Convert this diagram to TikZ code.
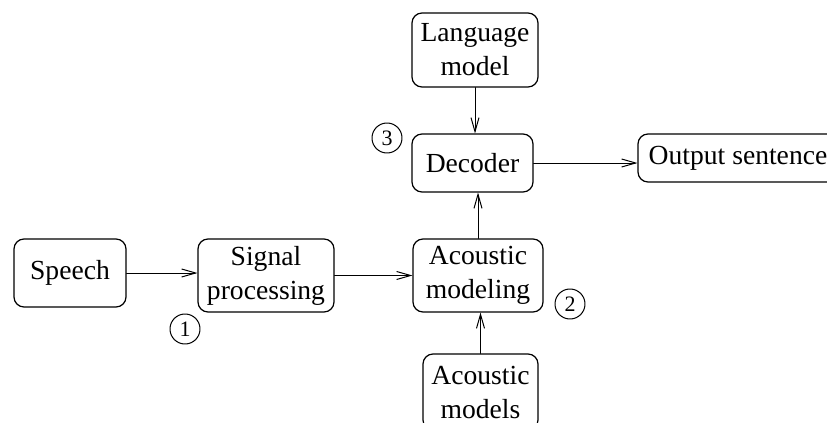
\documentclass[tikz,border=0pt]{standalone}
\usepackage{fontspec}
\setmainfont{Liberation Serif}
\usetikzlibrary{arrows.meta}
\tikzset{
  block/.style={draw, rounded corners=5pt, align=center, inner sep=0pt, line width=0.6pt,
    font=\fontsize{13.8}{17}\selectfont},
  stage/.style={draw, circle, minimum size=15pt, inner sep=0pt, line width=0.5pt,
    font=\fontsize{11}{13}\selectfont},
  flow/.style={-{Straight Barb[length=7pt,width=4pt]}, line width=0.5pt}
}
\begin{document}
\begin{tikzpicture}[x=0.5pt, y=-0.5pt, line cap=round, line join=round]
	\useasboundingbox (0,0) rectangle (827,423);
	
	% Các khối
	\node[block, minimum width=63pt, minimum height=37pt] (lang) at (475,50) {Language\\model};
	\node[block, minimum width=60.5pt, minimum height=29pt] (decoder) at (472.5,163) {Decoder};
	\node[block, minimum width=100pt, minimum height=24pt] (output) at (738,158) {Output sentence};
	\node[block, minimum width=56pt, minimum height=34pt] (speech) at (70,273) {Speech};
	\node[block, minimum width=68pt, minimum height=36.5pt] (signal) at (266,275.5) {Signal\\processing};
	\node[block, minimum width=65pt, minimum height=36.5pt] (acmod) at (478,275.5) {Acoustic\\modeling};
	\node[block, minimum width=57.5pt, minimum height=38pt] (acmods) at (480.5,392) {Acoustic\\models};
	
	% Các số thứ tự
	\node[stage] (one) at (185,329) {1};
	\node[stage] (two) at (570,304) {2};
	\node[stage] (three) at (387,138) {3};
	
	% Các mũi tên
	\draw[flow] (speech.east) -- (speech.east -| signal.west);
	\draw[flow] (signal) -- (acmod);
	\draw[flow] (acmod.north) -- (acmod.north |- decoder.south);
	\draw[flow] (acmods.north) -- (acmods.north |- acmod.south);
	\draw[flow] (lang.south) -- (lang.south |- decoder.north);
	\draw[flow] (decoder.east) -- (decoder.east -| output.west);
\end{tikzpicture}
\end{document}
